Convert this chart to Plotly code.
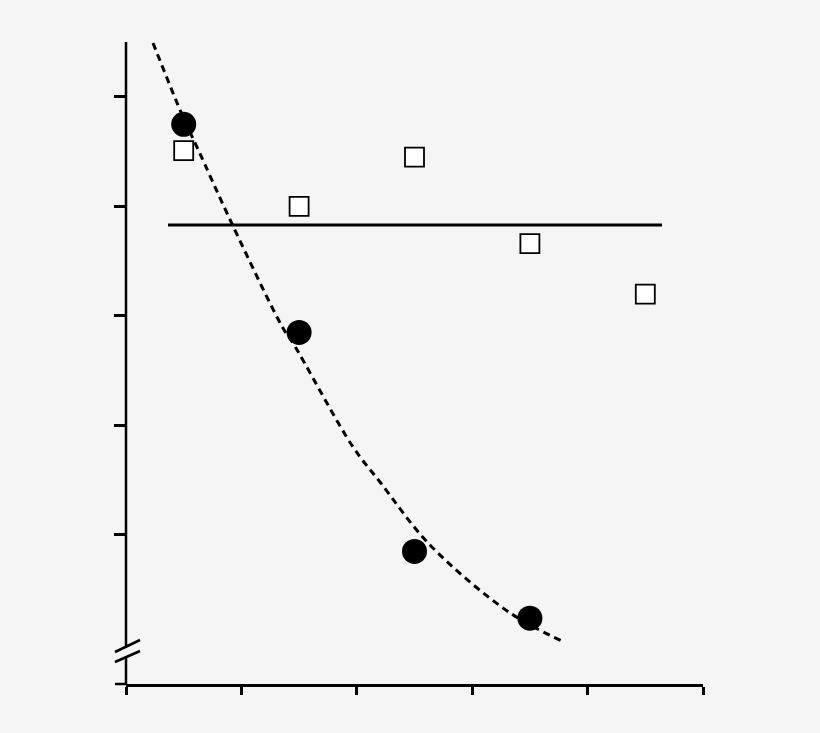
import plotly.graph_objects as go

# values (x ticks 0..5, y ticks 1..5, no labels)
x_pts = [0.5, 1.5, 2.5, 3.5, 4.5]
circles_y = [4.75, 2.85, 0.85, 0.24]
squares_y = [4.51, 4.00, 4.45, 3.66, 3.20]

# fitted dashed curve
curve_x = [0.234, 0.494, 0.615, 0.919, 1.360, 1.447, 1.967, 2.201, 2.634, 3.328, 3.778]
curve_y = [5.493, 4.817, 4.543, 3.840, 2.890, 2.753, 1.804, 1.484, 0.909, 0.288, 0.032]

# flat reference line
flat_x = [0.364, 4.645]
flat_y = [3.831, 3.831]

bg = "#f5f5f5"

fig = go.Figure()

fig.add_trace(go.Scatter(x=curve_x, y=curve_y, mode="lines",
                         line=dict(color="black", width=3, dash="7px,5px", shape="spline"),
                         showlegend=False, hoverinfo="skip"))
fig.add_trace(go.Scatter(x=flat_x, y=flat_y, mode="lines",
                         line=dict(color="black", width=3),
                         showlegend=False))
fig.add_trace(go.Scatter(x=x_pts[:len(circles_y)], y=circles_y, mode="markers",
                         marker=dict(symbol="circle", size=25, color="black"),
                         showlegend=False))
fig.add_trace(go.Scatter(x=x_pts, y=squares_y, mode="markers",
                         marker=dict(symbol="square", size=19, color="white",
                                     line=dict(color="black", width=1.8)),
                         showlegend=False))

# y axis drawn by hand so it can carry a break
ax = dict(type="line", line=dict(color="black", width=2.5), layer="above")
shapes = [
    dict(ax, xref="paper", yref="paper", x0=0, x1=0, y0=1, y1=(684 - 647) / 642),
    dict(ax, xref="paper", yref="paper", x0=0, x1=0, y0=(684 - 657) / 642, y1=0),
    dict(ax, xref="paper", yref="paper", x0=-11 / 577, x1=14 / 577,
         y0=(684 - 652) / 642, y1=(684 - 640) / 642),
    dict(ax, xref="paper", yref="paper", x0=-11 / 577, x1=14 / 577,
         y0=(684 - 662) / 642, y1=(684 - 651) / 642),
    dict(ax, xref="paper", yref="paper", x0=-11 / 577, x1=0, y0=0, y1=0),
]

fig.update_layout(
    width=820, height=733,
    margin=dict(l=126, r=117, t=42, b=49),
    paper_bgcolor=bg, plot_bgcolor=bg,
    shapes=shapes,
    xaxis=dict(range=[0, 5], tickvals=[0, 1, 2, 3, 4, 5], showticklabels=False,
               ticks="outside", ticklen=8, tickwidth=2.5, tickcolor="black",
               showline=True, linecolor="black", linewidth=2.5,
               showgrid=False, zeroline=False),
    yaxis=dict(range=[-0.361, 5.502], tickvals=[1, 2, 3, 4, 5], showticklabels=False,
               ticks="outside", ticklen=11, tickwidth=2.5, tickcolor="black",
               showline=False, showgrid=False, zeroline=False),
)

fig.write_html("out.html",
               config={"displayModeBar": False},
               post_script="document.body.style.margin='0';"
                           "document.body.style.background='#f5f5f5';"
                           "document.body.style.overflow='hidden';")
